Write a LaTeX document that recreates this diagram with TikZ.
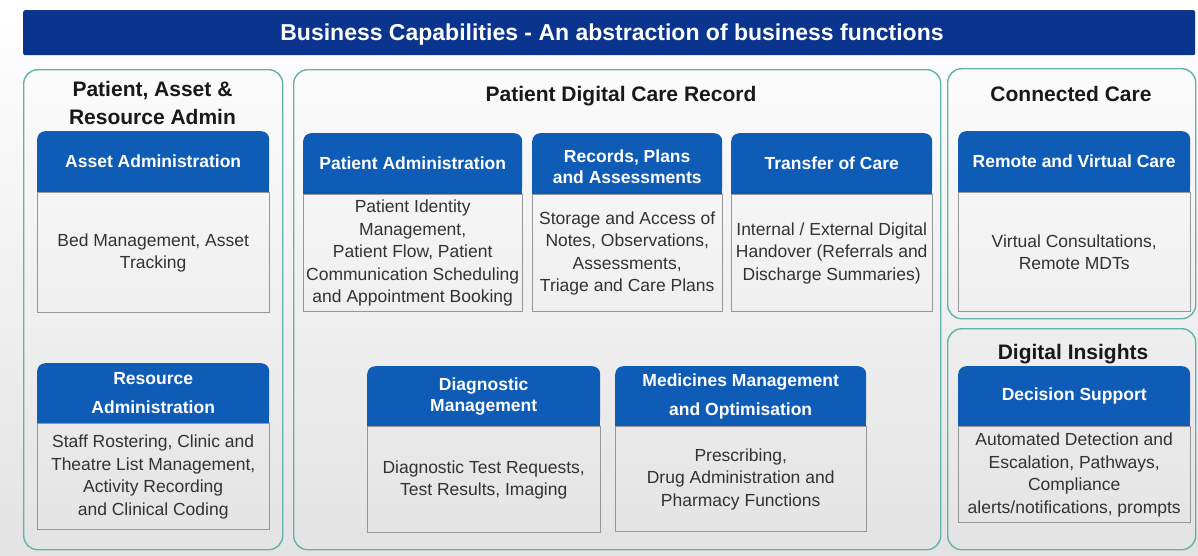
\documentclass[tikz,border=0pt]{standalone}
\usepackage{fontspec}
\setmainfont{Liberation Sans}
\usepackage{tikz}
\usetikzlibrary{positioning,backgrounds}

\definecolor{barnavy}{RGB}{10,52,142}
\definecolor{hdrblue}{RGB}{14,92,182}
\definecolor{panelteal}{RGB}{98,178,172}
\definecolor{boxgray}{RGB}{150,150,150}
\definecolor{bodytext}{RGB}{50,50,50}

\tikzset{
  panel/.style={draw=panelteal, line width=1.4pt, rounded corners=14pt, anchor=north west, inner sep=0pt},
  paneltitle/.style={font=\bfseries\fontsize{21}{28}\selectfont, align=center, text=black!90},
  hdr/.style={fill=hdrblue, rounded corners=8pt, text=white, align=center, anchor=north west, inner sep=0pt, font=\bfseries\fontsize{17.5}{21}\selectfont},
  bodybox/.style={draw=boxgray, line width=0.9pt, text=bodytext, align=center, inner sep=0pt, font=\fontsize{17.5}{22.5}\selectfont},
}

\begin{document}
\begin{tikzpicture}[x=1pt,y=-1pt]
\useasboundingbox (0,0) rectangle (1198,555);
% Title bar
\node[fill=barnavy, rounded corners=2pt, anchor=north west, minimum width=1172pt, minimum height=45pt, inner sep=0pt] (bar) at (23,10) {};
\node[text=white, font=\bfseries\fontsize{23}{28}\selectfont] (bartitle) at (612,35) {Business Capabilities - An abstraction of business functions};
%
% Panels
\node[panel, minimum width=259pt, minimum height=480pt] (leftpanel) at (23,69) {};
\node[panel, minimum width=647pt, minimum height=480pt] (midpanel) at (293,69) {};
\node[panel, minimum width=248pt, minimum height=250pt] (conpanel) at (947,68) {};
\node[panel, minimum width=248pt, minimum height=221pt] (inspanel) at (947,328) {};
% Panel titles
\node[paneltitle] (lefttitle) at (152.5,103) {Patient, Asset \&\\Resource Admin};
\node[paneltitle] (midtitle) at (621,96) {Patient Digital Care Record};
\node[paneltitle] (contitle) at (1071,94) {Connected Care};
\node[paneltitle] (institle) at (1073,354) {Digital Insights};
%
% Patient, Asset & Resource Admin
\node[hdr, minimum width=232pt, minimum height=61pt] (aa) at (37,131) {Asset Administration};
\node[bodybox, minimum width=232pt, minimum height=120pt, below=0pt of aa] (aab) {Bed Management, Asset\\Tracking};
\node[hdr, minimum width=232pt, minimum height=60pt] (ra) at (37,363) {Resource\\[8pt]Administration};
\node[bodybox, minimum width=232pt, minimum height=106pt, below=0pt of ra] (rab) {Staff Rostering, Clinic and\\Theatre List Management,\\Activity Recording\\and Clinical Coding};
%
% Patient Digital Care Record
\node[hdr, minimum width=219pt, minimum height=61pt] (pa) at (303,133) {Patient Administration};
\node[bodybox, minimum width=219pt, minimum height=117pt, below=0pt of pa] (pab) {Patient Identity\\Management,\\Patient Flow, Patient\\Communication Scheduling\\and Appointment Booking};
\node[hdr, minimum width=190pt, minimum height=61pt] (rp) at (532,133) {\\[-3pt]Records, Plans\\and Assessments};
\node[bodybox, minimum width=190pt, minimum height=117pt, below=0pt of rp] (rpb) {Storage and Access of\\Notes, Observations,\\Assessments,\\Triage and Care Plans};
\node[hdr, minimum width=201pt, minimum height=61pt] (tc) at (731,133) {Transfer of Care};
\node[bodybox, minimum width=201pt, minimum height=117pt, below=0pt of tc] (tcb) {Internal / External Digital\\Handover (Referrals and\\Discharge Summaries)};
\node[hdr, minimum width=233pt, minimum height=60pt] (dm) at (367,366) {Diagnostic\\Management};
\node[bodybox, minimum width=233pt, minimum height=106pt, below=0pt of dm] (dmb) {Diagnostic Test Requests,\\Test Results, Imaging};
\node[hdr, minimum width=251pt, minimum height=60pt] (mm) at (615,366) {Medicines Management\\[8pt]and Optimisation};
\node[bodybox, minimum width=251pt, minimum height=105pt, below=0pt of mm] (mmb) {Prescribing,\\Drug Administration and\\Pharmacy Functions};
%
% Connected Care
\node[hdr, minimum width=232pt, minimum height=61pt] (rv) at (958,131) {Remote and Virtual Care};
\node[bodybox, minimum width=232pt, minimum height=119pt, below=0pt of rv] (rvb) {Virtual Consultations,\\Remote MDTs};
% Digital Insights
\node[hdr, minimum width=232pt, minimum height=60pt] (ds) at (958,366) {Decision Support};
\node[bodybox, minimum width=232pt, minimum height=96pt, below=0pt of ds] (dsb) {Automated Detection and\\Escalation, Pathways,\\Compliance\\alerts/notifications, prompts};
%
% Page shading and square lower corners of the headers
\begin{pgfonlayer}{background}
 \shade[top color=white, middle color=white, bottom color=black!11] (0,0) rectangle (1198,555);
 \foreach \n in {aa,ra,pa,rp,tc,dm,mm,rv,ds}
  \fill[hdrblue] (\n.west) rectangle (\n.south east);
\end{pgfonlayer}
\end{tikzpicture}
\end{document}
